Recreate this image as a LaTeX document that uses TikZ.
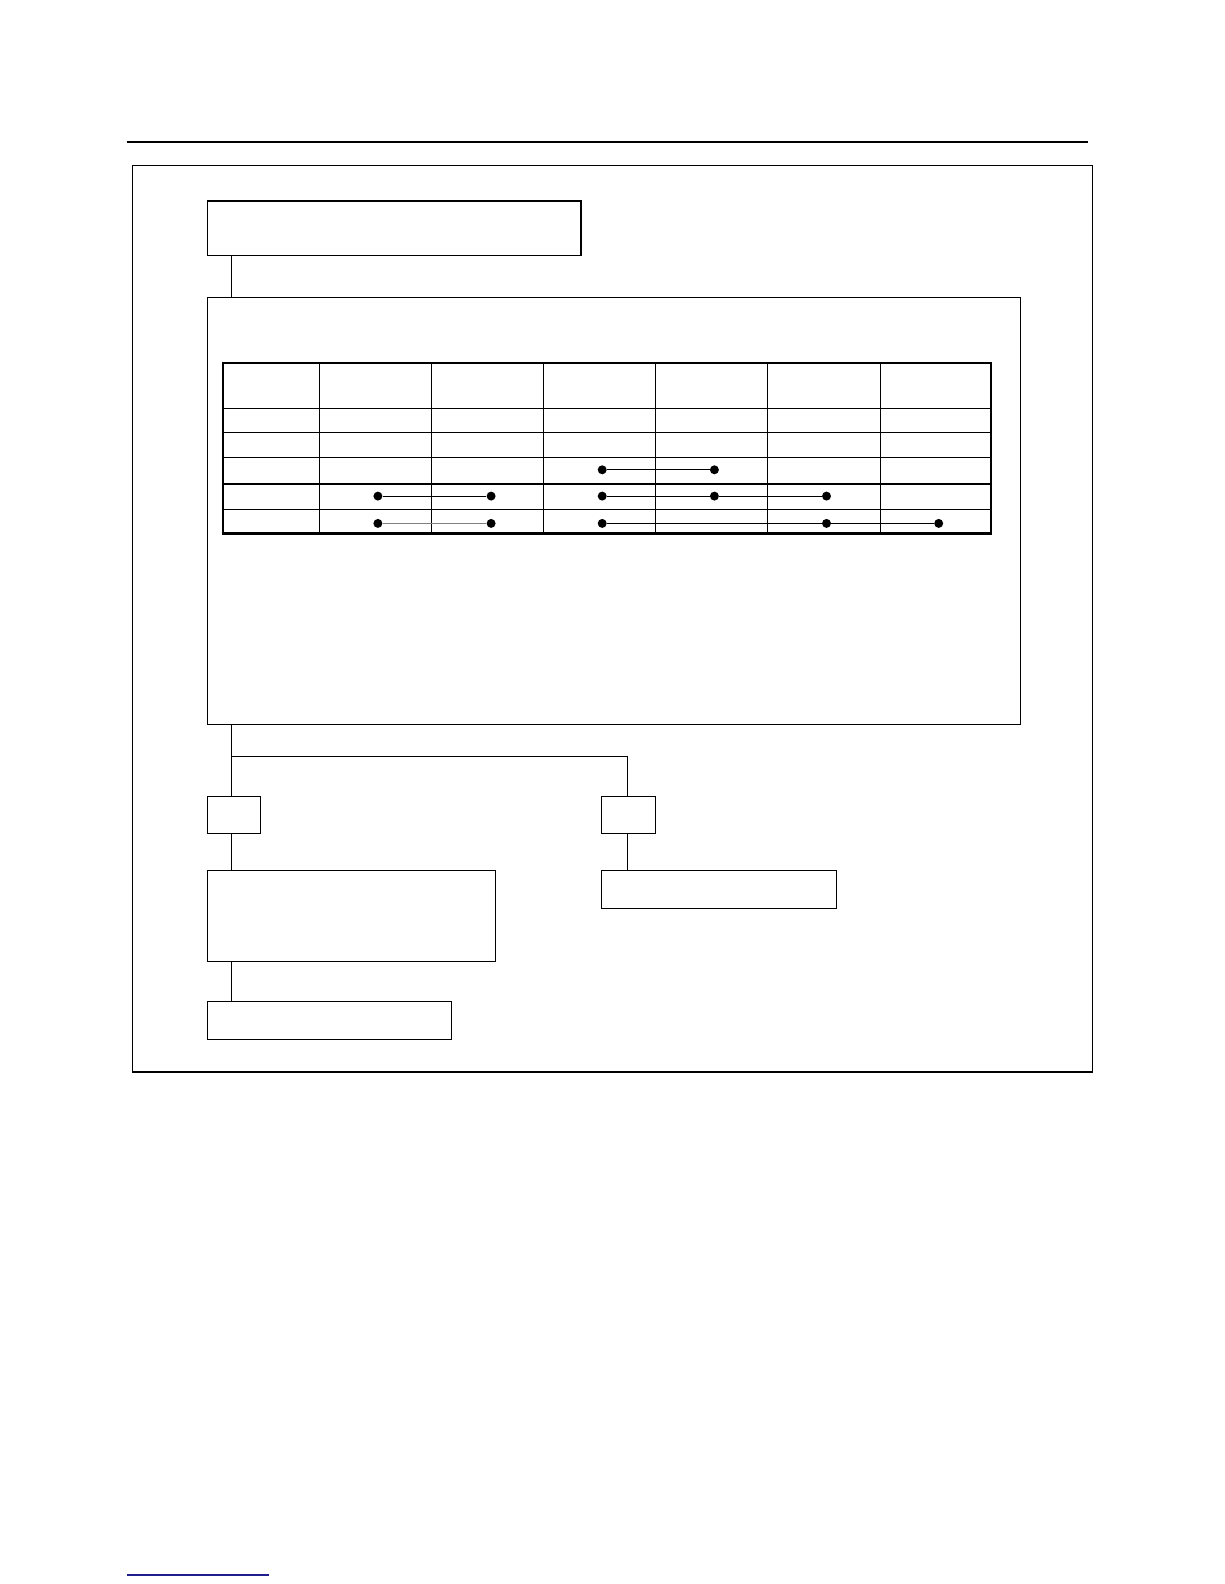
\documentclass[tikz,border=0pt]{standalone}
\begin{document}
\begin{tikzpicture}[x=1bp,y=-1bp,
  box/.style={draw=black,line width=1.2pt,fill=none},
  conn/.style={draw=black,line width=1.2pt},
  grid/.style={draw=black,line width=1.1pt},
  dot/.style={circle,fill=black,inner sep=0pt,minimum size=9pt},
  link/.style={draw=black,line width=1pt},
  glink/.style={draw=gray,line width=1.4pt}]
\useasboundingbox[fill=white] (0,0) rectangle (1224,1584);
% top rule
\draw[line width=1.6pt] (126.7,142) -- (1087.7,142);
% outer frame
\draw[box] (132.3,165.3) rectangle (1092.3,1072);
% boxes
\draw[box] (207.3,201) rectangle (581,255.3);
\coordinate (b1) at (231.7,255.3);
\draw[box] (207.3,297.3) rectangle (1020.3,724.3);
\coordinate (b2t) at (231.7,297.3);
\coordinate (b2b) at (231.7,724.3);
\draw[conn] (b1) -- (b2t);
% table
\foreach \x in {319.3,431.4,543.6,655.7,767.9,880.1} \draw[grid] (\x,362.7) -- (\x,533.5);
\foreach \y in {408.2,432.5,457.7,484.0,509.2} \draw[grid] (223.3,\y) -- (991.2,\y);
\draw[line width=2.2pt] (223.3,362.7) rectangle (991.2,533.5);
% dots row 3
\node[dot] (r3a) at (602.2,469.8) {};
\node[dot] (r3b) at (714.4,469.8) {};
\draw[link] (r3a) -- (r3b);
% row 4
\node[dot] (r4a) at (377.9,496.1) {};
\node[dot] (r4b) at (491.1,496.1) {};
\draw[link] (r4a) -- (r4b);
\node[dot] (r4c) at (602.2,496.1) {};
\node[dot] (r4d) at (714.4,496.1) {};
\node[dot] (r4e) at (826.5,496.1) {};
\draw[link] (r4c) -- (r4d) -- (r4e);
% row 5
\node[dot] (r5a) at (377.9,523.4) {};
\node[dot] (r5b) at (491.1,523.4) {};
\draw[glink] (r5a) -- (r5b);
\node[dot] (r5c) at (602.2,523.4) {};
\node[dot] (r5d) at (826.5,523.4) {};
\node[dot] (r5e) at (938.7,523.4) {};
\draw[link] (r5c) -- (r5d) -- (r5e);
% lower part
\coordinate (j) at (231.7,756.7);
\coordinate (jr) at (627.3,756.7);
\draw[box] (207.3,796.3) rectangle (260.7,833.3);
\draw[box] (601.3,796.3) rectangle (655.7,833.3);
\draw[conn] (b2b) -- (231.7,796.3);
\draw[conn] (j) -- (jr) -- (627.3,796.3);
\draw[conn] (231.7,833.3) -- (231.7,870.3);
\draw[box] (207.3,870.3) rectangle (495.1,961.3);
\draw[conn] (231.7,961.3) -- (231.7,1001.3);
\draw[box] (207.3,1001.3) rectangle (451.6,1039.3);
\draw[conn] (627.3,833.3) -- (627.3,870.3);
\draw[box] (601.3,870.3) rectangle (836.7,908.3);
% bottom blue rule
\definecolor{navyline}{RGB}{30,30,140}
\draw[navyline,line width=1.2pt] (127,1575) -- (269,1575);
\end{tikzpicture}
\end{document}
